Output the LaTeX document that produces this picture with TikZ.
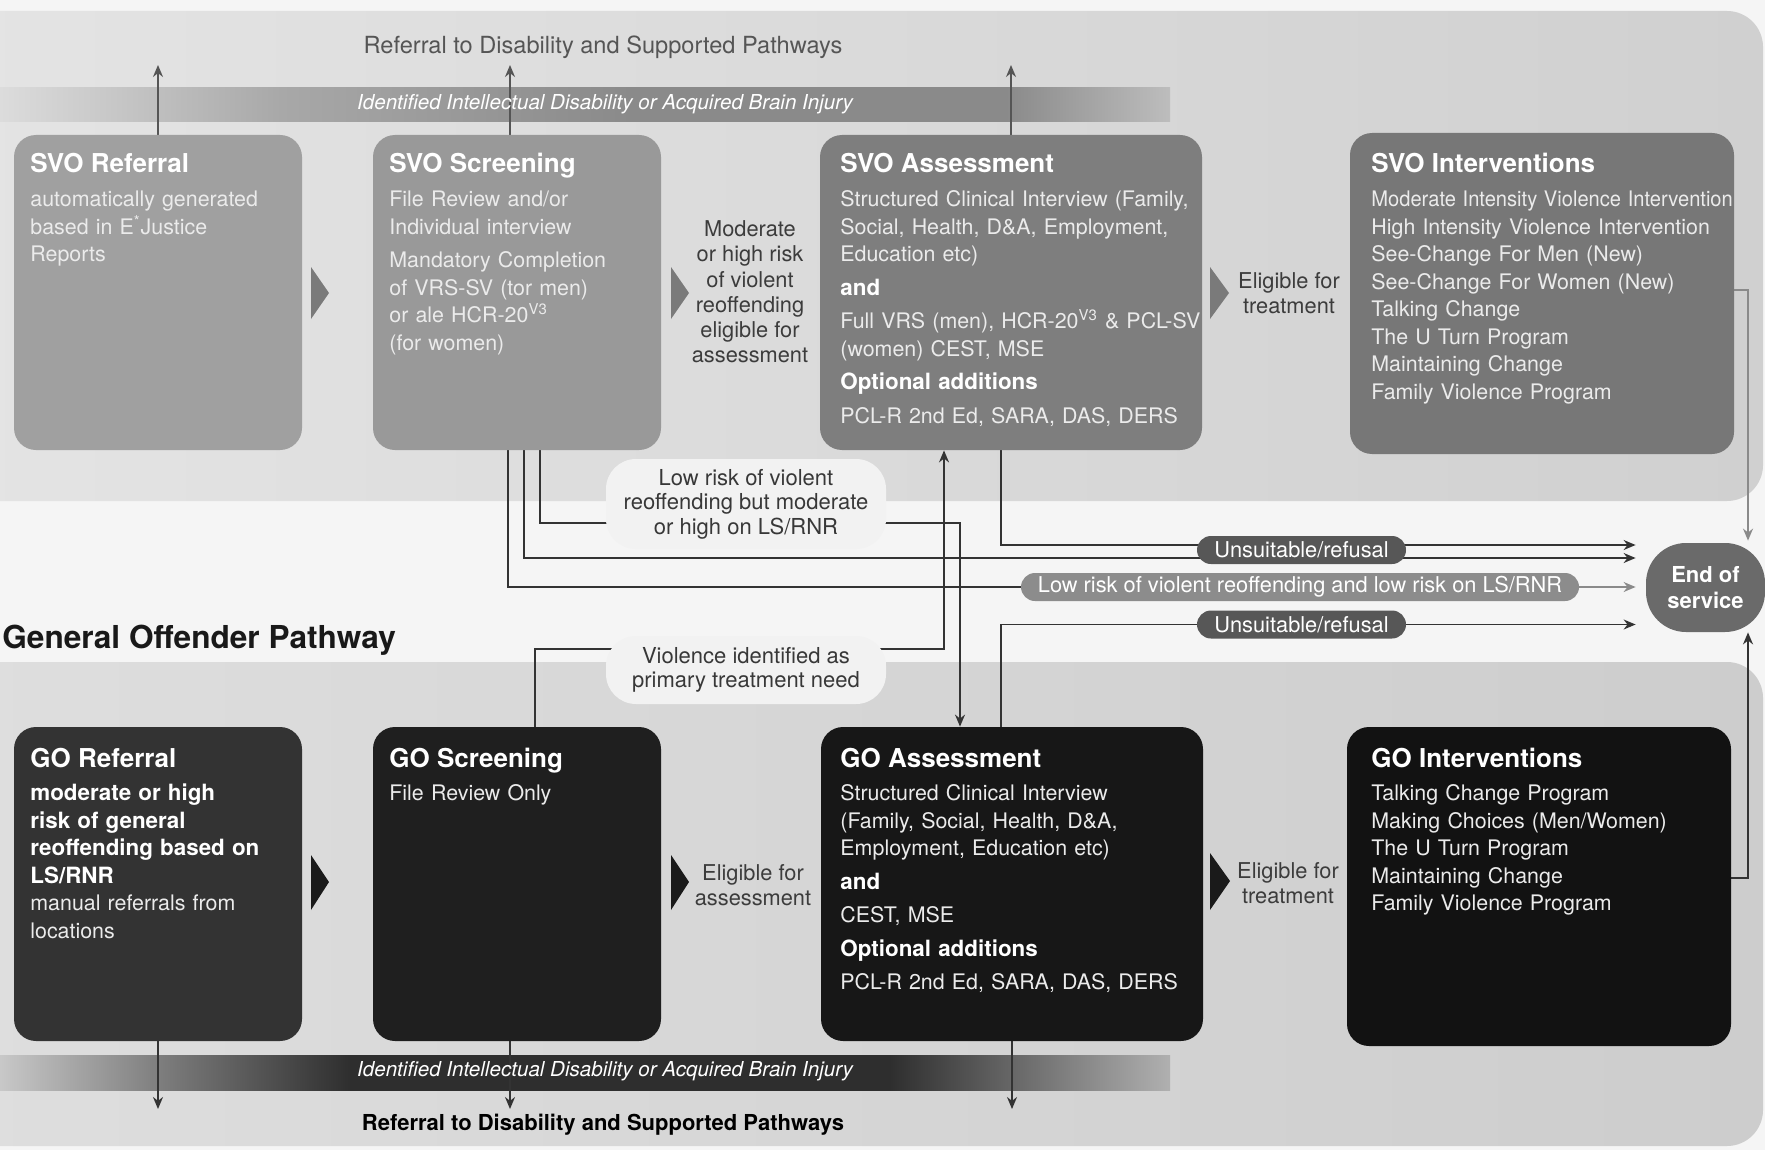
\documentclass[tikz,border=0pt]{standalone}
\usepackage{fontspec}
\setmainfont{TeX Gyre Heros}
\usetikzlibrary{arrows.meta}
\pgfdeclarelayer{panel}
\pgfdeclarelayer{wires}
\pgfsetlayers{panel,wires,main}

\definecolor{pagebg}{HTML}{F5F5F5}
\definecolor{panelL}{HTML}{E4E4E4}
\definecolor{panelR}{HTML}{D0D0D0}
\definecolor{panelLb}{HTML}{DEDEDE}
\definecolor{panelRb}{HTML}{CDCDCD}
\definecolor{svoA}{HTML}{A0A0A0}
\definecolor{svoAb}{HTML}{999999}
\definecolor{svoB}{HTML}{7E7E7E}
\definecolor{svoC}{HTML}{777777}
\definecolor{goA}{HTML}{333333}
\definecolor{goB}{HTML}{1F1F1F}
\definecolor{goC}{HTML}{171717}
\definecolor{goD}{HTML}{121212}
\definecolor{bodytxt}{HTML}{EBEBEB}
\definecolor{wirec}{HTML}{333333}
\definecolor{wiretop}{HTML}{555555}
\definecolor{wirelt}{HTML}{8A8A8A}
\definecolor{labeltxt}{HTML}{3C3C3C}
\definecolor{pilldark}{HTML}{575757}
\definecolor{pilllight}{HTML}{8C8C8C}
\definecolor{bubblec}{HTML}{F2F2F2}
\definecolor{bubtxt}{HTML}{383838}
\definecolor{eosfill}{HTML}{6A6A6A}
\definecolor{chevA}{HTML}{7A7A7A}
\definecolor{chevB}{HTML}{1A1A1A}
\definecolor{toptxt}{HTML}{555555}
\definecolor{tbA}{HTML}{DCDCDC}
\definecolor{tbB}{HTML}{A8A8A8}
\definecolor{tbC}{HTML}{8A8A8A}
\definecolor{tbD}{HTML}{BDBDBD}
\definecolor{bbA}{HTML}{C8C8C8}
\definecolor{bbB}{HTML}{7C7C7C}
\definecolor{bbC}{HTML}{2E2E2E}
\definecolor{bbD}{HTML}{B0B0B0}

\pgfdeclarehorizontalshading{topbandshade}{100bp}{color(0bp)=(tbA); color(25bp)=(tbA); color(37bp)=(tbB); color(52bp)=(tbC); color(68bp)=(tbC); color(75bp)=(tbD); color(100bp)=(tbD)}
\pgfdeclarehorizontalshading{botbandshade}{100bp}{color(0bp)=(bbA); color(25bp)=(bbA); color(32bp)=(bbB); color(40bp)=(bbC); color(63bp)=(bbC); color(75bp)=(bbD); color(100bp)=(bbD)}

\newcommand\mysubhd[1]{{\fontsize{11.2}{13.75}\selectfont\bfseries\color{white}#1}}

\tikzset{
  wire/.style={draw=wirec, line width=0.8pt},
  wiretp/.style={draw=wiretop, line width=0.8pt},
  wirelite/.style={draw=wirelt, line width=0.8pt},
  arr/.style={-{Stealth[length=6pt,width=5pt]}},
  boxnode/.style={rounded corners=11pt, inner sep=0pt, minimum height=157.5pt},
  ttl/.style={anchor=base west, inner sep=0pt, text=white, font=\fontsize{13}{15}\selectfont\bfseries},
  bdy/.style={anchor=base west, inner sep=0pt, text=bodytxt, align=left, text width=200pt, font=\fontsize{10.7}{13.75}\selectfont},
  lbl/.style={inner sep=0pt, align=center, text=labeltxt, font=\fontsize{10.9}{12.6}\selectfont},
  bubblebox/.style={fill=bubblec, rounded corners=15pt, minimum width=140pt, inner sep=0pt, align=center, text=bubtxt, font=\fontsize{11}{12.3}\selectfont},
  pill/.style={rounded corners=7pt, minimum height=14pt, inner sep=0pt, text=white, font=\fontsize{10.9}{12}\selectfont},
  bandtxt/.style={inner sep=0pt, text=white, font=\fontsize{10.3}{12}\selectfont\itshape},
}

\begin{document}
\begin{tikzpicture}[x=0.5pt,y=-0.5pt]
\useasboundingbox (0,0) rectangle (1765,1150);

% ---------- backgrounds ----------
\begin{pgfonlayer}{panel}
\fill[pagebg] (0,0) rectangle (1765,1150);
\shade[left color=panelL, right color=panelR, rounded corners=18pt] (-40,11) rectangle (1763,501);
\shade[left color=panelLb, right color=panelRb, rounded corners=18pt] (-40,662) rectangle (1763,1146);
\shade[shading=topbandshade] (0,88) rectangle (1170,122);
\shade[shading=botbandshade] (0,1055) rectangle (1170,1090);
\end{pgfonlayer}

% ---------- band and pathway texts ----------
\node[bandtxt] (topband) at (605,104) {Identified Intellectual Disability or Acquired Brain Injury};
\node[bandtxt] (botband) at (605,1071) {Identified Intellectual Disability or Acquired Brain Injury};
\node[inner sep=0pt, text=toptxt, font=\fontsize{11.8}{14}\selectfont] (topref) at (603,47) {Referral to Disability and Supported Pathways};
\node[inner sep=0pt, text=black, font=\fontsize{11}{14}\selectfont\bfseries] (botref) at (603,1125) {Referral to Disability and Supported Pathways};
\node[anchor=base west, inner sep=0pt, text=black!90, font=\fontsize{15.8}{18}\selectfont\bfseries] (gop) at (2,648) {General Offender Pathway};

% ---------- boxes ----------
\node[boxnode, fill=svoA, minimum width=144pt] (sref) at (158,292.5) {};
\node[boxnode, fill=svoAb, minimum width=144pt] (sscr) at (517,292.5) {};
\node[boxnode, fill=svoB, minimum width=191pt] (sass) at (1011,292.5) {};
\node[boxnode, fill=svoC, minimum width=192pt, minimum height=160.5pt] (sint) at (1542,293.5) {};
\node[boxnode, fill=goA, minimum width=144pt, minimum height=157pt] (gref) at (158,884) {};
\node[boxnode, fill=goB, minimum width=144pt, minimum height=157pt] (gscr) at (517,884) {};
\node[boxnode, fill=goC, minimum width=191pt, minimum height=157pt] (gass) at (1012,884) {};
\node[boxnode, fill=goD, minimum width=192pt, minimum height=159.5pt] (gint) at (1539,886.5) {};

% ---------- box texts ----------
\node[ttl] (srefT) at (30,172.5) {SVO Referral};
\node[bdy] (srefB) at (30,206.5) {automatically generated\\based in E\textsuperscript{*}Justice\\Reports};
\node[ttl] (sscrT) at (389,172.5) {SVO Screening};
\node[bdy] (sscrB) at (389,206.5) {File Review and/or\\Individual interview\\[3pt]Mandatory Completion\\of VRS-SV (tor men)\\or ale HCR-20\textsuperscript{V3}\\(for women)};
\node[ttl] (sassT) at (840,172.5) {SVO Assessment};
\node[bdy] (sassB) at (840,206.5) {Structured Clinical Interview (Family,\\Social, Health, D\&A, Employment,\\Education etc)\\[3pt]\mysubhd{and}\\[3pt]Full VRS (men), HCR-20\textsuperscript{V3} \& PCL-SV\\(women) CEST, MSE\\[3pt]\mysubhd{Optional additions}\\[3pt]PCL-R 2nd Ed, SARA, DAS, DERS};
\node[ttl] (sintT) at (1371,172.5) {SVO Interventions};
\node[bdy] (sintB) at (1371,206.5) {\scalebox{0.94}[1]{Moderate Intensity Violence Intervention}\\High Intensity Violence Intervention\\See-Change For Men (New)\\See-Change For Women (New)\\Talking Change\\The U Turn Program\\Maintaining Change\\Family Violence Program};

\node[ttl] (grefT) at (30,767) {GO Referral};
\node[bdy] (grefB) at (30,800.5) {\mysubhd{moderate or high}\\\mysubhd{risk of general}\\\mysubhd{reoffending based on}\\\mysubhd{LS/RNR}\\manual referrals from\\locations};
\node[ttl] (gscrT) at (389,767) {GO Screening};
\node[bdy] (gscrB) at (389,800.5) {File Review Only};
\node[ttl] (gassT) at (840,767) {GO Assessment};
\node[bdy] (gassB) at (840,800.5) {Structured Clinical Interview\\(Family, Social, Health, D\&A,\\Employment, Education etc)\\[3pt]\mysubhd{and}\\[3pt]CEST, MSE\\[3pt]\mysubhd{Optional additions}\\[3pt]PCL-R 2nd Ed, SARA, DAS, DERS};
\node[ttl] (gintT) at (1371,767) {GO Interventions};
\node[bdy] (gintB) at (1371,800.5) {Talking Change Program\\Making Choices (Men/Women)\\The U Turn Program\\Maintaining Change\\Family Violence Program};

% ---------- chevrons ----------
\fill[chevA] (311,267) -- (329,293) -- (311,319) -- cycle;
\fill[chevA] (671,267) -- (689,293) -- (671,319) -- cycle;
\fill[chevA] (1210,267) -- (1229,293) -- (1210,319) -- cycle;
\fill[chevB] (311,855) -- (329,882) -- (311,910) -- cycle;
\fill[chevB] (671,855) -- (689,882) -- (671,910) -- cycle;
\fill[chevB] (1210,853) -- (1230,881) -- (1210,910) -- cycle;

% ---------- labels ----------
\node[lbl] (lab1) at (750,292) {Moderate\\or high risk\\of violent\\reoffending\\eligible for\\assessment};
\node[lbl] (lab2) at (1289,293) {Eligible for\\treatment};
\node[lbl] (lab3) at (753,885) {Eligible for\\assessment};
\node[lbl] (lab4) at (1288,883) {Eligible for\\treatment};

% ---------- bubbles, pills, end ----------
\node[bubblebox, minimum height=45pt] (lowbub) at (746,504) {Low risk of violent\\reoffending but moderate\\or high on LS/RNR};
\node[bubblebox, minimum height=34pt] (viobub) at (746,670) {Violence identified as\\primary treatment need};
\node[pill, fill=pilldark, minimum width=104.5pt] (un1) at (1301.5,550) {Unsuitable/refusal};
\node[pill, fill=pilllight, minimum width=279pt] (lowpill) at (1300,587) {Low risk of violent reoffending and low risk on LS/RNR};
\node[pill, fill=pilldark, minimum width=104.5pt] (un2) at (1301.5,624.5) {Unsuitable/refusal};
\node[fill=eosfill, rounded corners=20pt, minimum width=59.5pt, minimum height=44.5pt, inner sep=0pt, align=center, text=white, font=\fontsize{11}{13}\selectfont\bfseries] (eos) at (1705.5,587.5) {End of\\service};

% ---------- connectors ----------
\coordinate (u1) at (158,65);
\coordinate (u2) at (510,65);
\coordinate (u3) at (1011,65);
\coordinate (d1) at (158,1109);
\coordinate (d2) at (510,1109);
\coordinate (d3) at (1012,1109);
\coordinate (c540) at (540,523);
\coordinate (c960) at (960,523);
\coordinate (c524) at (524,558);
\coordinate (c508) at (508,587);
\coordinate (c1001a) at (1001,545);
\coordinate (c1001b) at (1001,624.5);
\coordinate (c535) at (535,649);
\coordinate (c944) at (944,649);
\coordinate (c1748a) at (1748,290);
\coordinate (c1748b) at (1748,878);

\begin{pgfonlayer}{wires}
\draw[wiretp,arr] (sref.north) -- (u1);
\draw[wiretp,arr] (sscr.north -| u2) -- (u2);
\draw[wiretp,arr] (sass.north) -- (u3);
\draw[wire,arr] (gref.south) -- (d1);
\draw[wire,arr] (gscr.south -| d2) -- (d2);
\draw[wire,arr] (gass.south -| d3) -- (d3);

\draw[wire,arr] (sscr.south -| c540) |- (c960) -- (gass.north -| c960);
\draw[wire,arr,shorten >=5pt] (sscr.south -| c524) |- (eos.west |- c524);
\draw[wire] (sscr.south -| c508) |- (lowpill.west |- c508);
\draw[wirelite,arr,shorten >=5pt] (lowpill.east |- c508) -- (eos.west |- c508);
\draw[wire,arr,shorten >=5pt] (sass.south -| c1001a) |- (eos.west |- c1001a);
\draw[wire,arr,shorten >=5pt] (gass.north -| c1001b) |- (eos.west |- c1001b);
\draw[wire,arr] (gscr.north -| c535) |- (c944) -- (sass.south -| c944);
\draw[wirelite,arr,shorten >=1pt] (sint.east |- c1748a) -- (c1748a) -- (c1748a |- eos.north);
\draw[wire,arr] (gint.east |- c1748b) -- (c1748b) -- (c1748b |- eos.south);
\end{pgfonlayer}
\end{tikzpicture}
\end{document}
